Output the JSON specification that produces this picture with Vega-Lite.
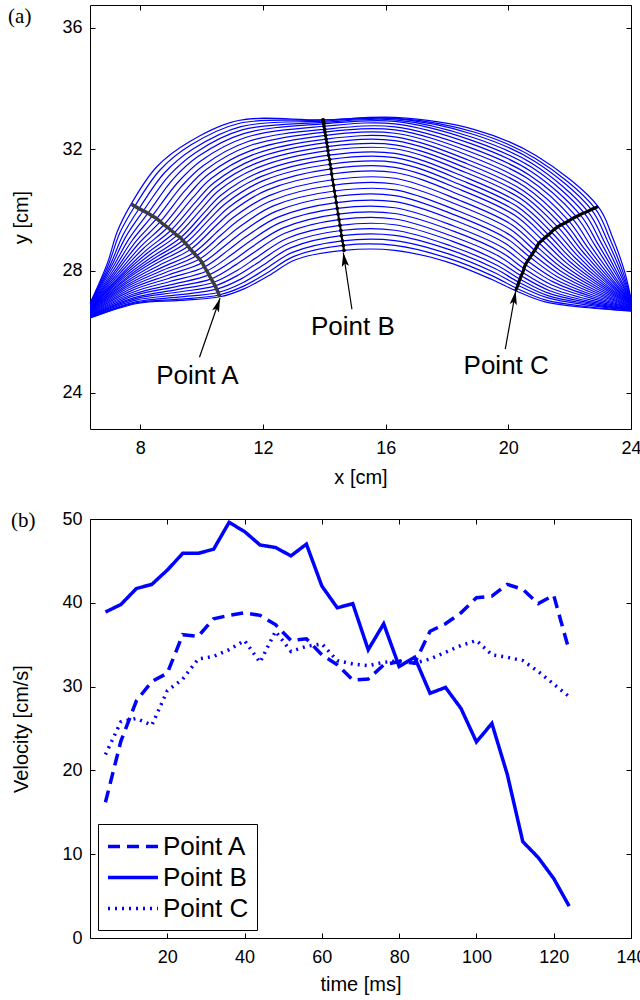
{
  "$schema": "https://vega.github.io/schema/vega-lite/v6.json",
  "background": "white",
  "padding": {"left": 7, "top": 4, "right": 0, "bottom": 0},
  "spacing": 21,
  "resolve": {"legend": {"strokeDash": "independent", "strokeWidth": "independent"}},
  "config": {
    "font": "Liberation Sans",
    "view": {"stroke": "black", "strokeWidth": 1},
    "axis": {
      "domain": false, "grid": false, "ticks": true, "tickSize": -5, "tickColor": "black",
      "labelPadding": 13, "labelFont": "Liberation Sans", "labelFontSize": 18, "labelColor": "black",
      "labelFlush": false, "labelOverlap": false,
      "titleFont": "Liberation Sans", "titleFontSize": 20, "titleFontWeight": "normal", "titleColor": "black"
    },
    "axisX": {"labelPadding": 15, "titlePadding": 10},
    "axisY": {"titlePadding": 30}
  },
  "datasets": {
    "wave": [
      {"k":0,"j":1,"x":6.37,"y":26.45},{"k":0,"j":2,"x":7.90,"y":26.93},{"k":0,"j":3,"x":9.30,"y":27.03},{"k":0,"j":4,"x":10.60,"y":27.15},{"k":0,"j":5,"x":11.40,"y":27.42},{"k":0,"j":6,"x":12.20,"y":27.85},{"k":0,"j":7,"x":13.06,"y":28.37},{"k":0,"j":8,"x":14.64,"y":28.68},{"k":0,"j":9,"x":16.30,"y":28.68},{"k":0,"j":10,"x":18.00,"y":28.30},{"k":0,"j":11,"x":19.46,"y":27.72},{"k":0,"j":12,"x":20.24,"y":27.35},{"k":0,"j":13,"x":21.20,"y":26.98},{"k":0,"j":14,"x":22.60,"y":26.79},{"k":0,"j":15,"x":24.00,"y":26.68},
      {"k":1,"j":1,"x":6.37,"y":26.46},{"k":1,"j":2,"x":7.89,"y":26.96},{"k":1,"j":3,"x":9.28,"y":27.07},{"k":1,"j":4,"x":10.57,"y":27.21},{"k":1,"j":5,"x":11.37,"y":27.50},{"k":1,"j":6,"x":12.14,"y":27.94},{"k":1,"j":7,"x":13.01,"y":28.48},{"k":1,"j":8,"x":14.62,"y":28.84},{"k":1,"j":9,"x":16.30,"y":28.84},{"k":1,"j":10,"x":18.03,"y":28.42},{"k":1,"j":11,"x":19.50,"y":27.83},{"k":1,"j":12,"x":20.27,"y":27.43},{"k":1,"j":13,"x":21.23,"y":27.04},{"k":1,"j":14,"x":22.61,"y":26.82},{"k":1,"j":15,"x":24.00,"y":26.69},
      {"k":2,"j":1,"x":6.37,"y":26.47},{"k":2,"j":2,"x":7.88,"y":26.99},{"k":2,"j":3,"x":9.25,"y":27.14},{"k":2,"j":4,"x":10.54,"y":27.29},{"k":2,"j":5,"x":11.34,"y":27.61},{"k":2,"j":6,"x":12.08,"y":28.06},{"k":2,"j":7,"x":12.96,"y":28.61},{"k":2,"j":8,"x":14.59,"y":28.99},{"k":2,"j":9,"x":16.30,"y":29.00},{"k":2,"j":10,"x":18.05,"y":28.56},{"k":2,"j":11,"x":19.54,"y":27.95},{"k":2,"j":12,"x":20.31,"y":27.53},{"k":2,"j":13,"x":21.26,"y":27.12},{"k":2,"j":14,"x":22.63,"y":26.87},{"k":2,"j":15,"x":24.00,"y":26.71},
      {"k":3,"j":1,"x":6.37,"y":26.49},{"k":3,"j":2,"x":7.86,"y":27.04},{"k":3,"j":3,"x":9.22,"y":27.21},{"k":3,"j":4,"x":10.49,"y":27.40},{"k":3,"j":5,"x":11.29,"y":27.74},{"k":3,"j":6,"x":12.00,"y":28.19},{"k":3,"j":7,"x":12.90,"y":28.76},{"k":3,"j":8,"x":14.56,"y":29.16},{"k":3,"j":9,"x":16.30,"y":29.17},{"k":3,"j":10,"x":18.08,"y":28.70},{"k":3,"j":11,"x":19.58,"y":28.07},{"k":3,"j":12,"x":20.34,"y":27.63},{"k":3,"j":13,"x":21.29,"y":27.19},{"k":3,"j":14,"x":22.65,"y":26.91},{"k":3,"j":15,"x":24.00,"y":26.72},
      {"k":4,"j":1,"x":6.37,"y":26.51},{"k":4,"j":2,"x":7.85,"y":27.09},{"k":4,"j":3,"x":9.19,"y":27.30},{"k":4,"j":4,"x":10.44,"y":27.51},{"k":4,"j":5,"x":11.24,"y":27.89},{"k":4,"j":6,"x":11.92,"y":28.33},{"k":4,"j":7,"x":12.84,"y":28.91},{"k":4,"j":8,"x":14.54,"y":29.33},{"k":4,"j":9,"x":16.30,"y":29.34},{"k":4,"j":10,"x":18.11,"y":28.83},{"k":4,"j":11,"x":19.63,"y":28.19},{"k":4,"j":12,"x":20.38,"y":27.73},{"k":4,"j":13,"x":21.31,"y":27.27},{"k":4,"j":14,"x":22.66,"y":26.95},{"k":4,"j":15,"x":24.00,"y":26.73},
      {"k":5,"j":1,"x":6.37,"y":26.53},{"k":5,"j":2,"x":7.83,"y":27.13},{"k":5,"j":3,"x":9.15,"y":27.38},{"k":5,"j":4,"x":10.38,"y":27.62},{"k":5,"j":5,"x":11.18,"y":28.03},{"k":5,"j":6,"x":11.83,"y":28.47},{"k":5,"j":7,"x":12.78,"y":29.07},{"k":5,"j":8,"x":14.51,"y":29.50},{"k":5,"j":9,"x":16.30,"y":29.52},{"k":5,"j":10,"x":18.14,"y":28.99},{"k":5,"j":11,"x":19.67,"y":28.32},{"k":5,"j":12,"x":20.42,"y":27.84},{"k":5,"j":13,"x":21.35,"y":27.35},{"k":5,"j":14,"x":22.68,"y":26.99},{"k":5,"j":15,"x":24.00,"y":26.75},
      {"k":6,"j":1,"x":6.37,"y":26.55},{"k":6,"j":2,"x":7.80,"y":27.19},{"k":6,"j":3,"x":9.10,"y":27.47},{"k":6,"j":4,"x":10.31,"y":27.74},{"k":6,"j":5,"x":11.11,"y":28.20},{"k":6,"j":6,"x":11.74,"y":28.63},{"k":6,"j":7,"x":12.71,"y":29.24},{"k":6,"j":8,"x":14.48,"y":29.69},{"k":6,"j":9,"x":16.30,"y":29.71},{"k":6,"j":10,"x":18.17,"y":29.14},{"k":6,"j":11,"x":19.72,"y":28.47},{"k":6,"j":12,"x":20.47,"y":27.95},{"k":6,"j":13,"x":21.38,"y":27.44},{"k":6,"j":14,"x":22.70,"y":27.04},{"k":6,"j":15,"x":24.00,"y":26.77},
      {"k":7,"j":1,"x":6.37,"y":26.57},{"k":7,"j":2,"x":7.78,"y":27.24},{"k":7,"j":3,"x":9.05,"y":27.56},{"k":7,"j":4,"x":10.24,"y":27.87},{"k":7,"j":5,"x":11.05,"y":28.36},{"k":7,"j":6,"x":11.64,"y":28.79},{"k":7,"j":7,"x":12.64,"y":29.41},{"k":7,"j":8,"x":14.45,"y":29.87},{"k":7,"j":9,"x":16.30,"y":29.89},{"k":7,"j":10,"x":18.21,"y":29.31},{"k":7,"j":11,"x":19.78,"y":28.61},{"k":7,"j":12,"x":20.51,"y":28.08},{"k":7,"j":13,"x":21.42,"y":27.54},{"k":7,"j":14,"x":22.72,"y":27.10},{"k":7,"j":15,"x":24.00,"y":26.79},
      {"k":8,"j":1,"x":6.37,"y":26.59},{"k":8,"j":2,"x":7.76,"y":27.30},{"k":8,"j":3,"x":8.99,"y":27.66},{"k":8,"j":4,"x":10.17,"y":28.00},{"k":8,"j":5,"x":10.97,"y":28.53},{"k":8,"j":6,"x":11.55,"y":28.96},{"k":8,"j":7,"x":12.56,"y":29.59},{"k":8,"j":8,"x":14.42,"y":30.06},{"k":8,"j":9,"x":16.30,"y":30.08},{"k":8,"j":10,"x":18.24,"y":29.47},{"k":8,"j":11,"x":19.83,"y":28.76},{"k":8,"j":12,"x":20.56,"y":28.21},{"k":8,"j":13,"x":21.46,"y":27.64},{"k":8,"j":14,"x":22.74,"y":27.15},{"k":8,"j":15,"x":24.00,"y":26.80},
      {"k":9,"j":1,"x":6.37,"y":26.61},{"k":9,"j":2,"x":7.73,"y":27.36},{"k":9,"j":3,"x":8.94,"y":27.76},{"k":9,"j":4,"x":10.09,"y":28.13},{"k":9,"j":5,"x":10.90,"y":28.71},{"k":9,"j":6,"x":11.45,"y":29.13},{"k":9,"j":7,"x":12.49,"y":29.77},{"k":9,"j":8,"x":14.39,"y":30.25},{"k":9,"j":9,"x":16.30,"y":30.28},{"k":9,"j":10,"x":18.28,"y":29.65},{"k":9,"j":11,"x":19.88,"y":28.92},{"k":9,"j":12,"x":20.63,"y":28.33},{"k":9,"j":13,"x":21.52,"y":27.73},{"k":9,"j":14,"x":22.77,"y":27.20},{"k":9,"j":15,"x":24.00,"y":26.82},
      {"k":10,"j":1,"x":6.37,"y":26.63},{"k":10,"j":2,"x":7.71,"y":27.42},{"k":10,"j":3,"x":8.89,"y":27.86},{"k":10,"j":4,"x":10.02,"y":28.27},{"k":10,"j":5,"x":10.82,"y":28.88},{"k":10,"j":6,"x":11.35,"y":29.30},{"k":10,"j":7,"x":12.42,"y":29.96},{"k":10,"j":8,"x":14.36,"y":30.45},{"k":10,"j":9,"x":16.30,"y":30.48},{"k":10,"j":10,"x":18.31,"y":29.82},{"k":10,"j":11,"x":19.94,"y":29.07},{"k":10,"j":12,"x":20.71,"y":28.45},{"k":10,"j":13,"x":21.58,"y":27.82},{"k":10,"j":14,"x":22.81,"y":27.25},{"k":10,"j":15,"x":24.00,"y":26.84},
      {"k":11,"j":1,"x":6.37,"y":26.65},{"k":11,"j":2,"x":7.67,"y":27.47},{"k":11,"j":3,"x":8.82,"y":27.95},{"k":11,"j":4,"x":9.93,"y":28.39},{"k":11,"j":5,"x":10.73,"y":29.04},{"k":11,"j":6,"x":11.25,"y":29.46},{"k":11,"j":7,"x":12.34,"y":30.14},{"k":11,"j":8,"x":14.33,"y":30.63},{"k":11,"j":9,"x":16.30,"y":30.67},{"k":11,"j":10,"x":18.35,"y":29.98},{"k":11,"j":11,"x":19.99,"y":29.22},{"k":11,"j":12,"x":20.78,"y":28.56},{"k":11,"j":13,"x":21.64,"y":27.91},{"k":11,"j":14,"x":22.84,"y":27.30},{"k":11,"j":15,"x":24.00,"y":26.85},
      {"k":12,"j":1,"x":6.37,"y":26.67},{"k":12,"j":2,"x":7.64,"y":27.52},{"k":12,"j":3,"x":8.75,"y":28.03},{"k":12,"j":4,"x":9.83,"y":28.50},{"k":12,"j":5,"x":10.64,"y":29.19},{"k":12,"j":6,"x":11.15,"y":29.63},{"k":12,"j":7,"x":12.27,"y":30.31},{"k":12,"j":8,"x":14.30,"y":30.82},{"k":12,"j":9,"x":16.30,"y":30.86},{"k":12,"j":10,"x":18.38,"y":30.16},{"k":12,"j":11,"x":20.05,"y":29.38},{"k":12,"j":12,"x":20.86,"y":28.68},{"k":12,"j":13,"x":21.70,"y":28.00},{"k":12,"j":14,"x":22.87,"y":27.35},{"k":12,"j":15,"x":24.00,"y":26.87},
      {"k":13,"j":1,"x":6.37,"y":26.69},{"k":13,"j":2,"x":7.61,"y":27.56},{"k":13,"j":3,"x":8.69,"y":28.11},{"k":13,"j":4,"x":9.74,"y":28.60},{"k":13,"j":5,"x":10.55,"y":29.33},{"k":13,"j":6,"x":11.06,"y":29.78},{"k":13,"j":7,"x":12.20,"y":30.48},{"k":13,"j":8,"x":14.27,"y":31.00},{"k":13,"j":9,"x":16.30,"y":31.05},{"k":13,"j":10,"x":18.42,"y":30.32},{"k":13,"j":11,"x":20.10,"y":29.53},{"k":13,"j":12,"x":20.93,"y":28.80},{"k":13,"j":13,"x":21.76,"y":28.09},{"k":13,"j":14,"x":22.91,"y":27.40},{"k":13,"j":15,"x":24.00,"y":26.89},
      {"k":14,"j":1,"x":6.37,"y":26.71},{"k":14,"j":2,"x":7.58,"y":27.61},{"k":14,"j":3,"x":8.62,"y":28.19},{"k":14,"j":4,"x":9.64,"y":28.71},{"k":14,"j":5,"x":10.45,"y":29.47},{"k":14,"j":6,"x":10.96,"y":29.94},{"k":14,"j":7,"x":12.13,"y":30.66},{"k":14,"j":8,"x":14.24,"y":31.19},{"k":14,"j":9,"x":16.30,"y":31.24},{"k":14,"j":10,"x":18.45,"y":30.49},{"k":14,"j":11,"x":20.15,"y":29.68},{"k":14,"j":12,"x":21.00,"y":28.92},{"k":14,"j":13,"x":21.82,"y":28.18},{"k":14,"j":14,"x":22.94,"y":27.45},{"k":14,"j":15,"x":24.00,"y":26.91},
      {"k":15,"j":1,"x":6.37,"y":26.72},{"k":15,"j":2,"x":7.55,"y":27.65},{"k":15,"j":3,"x":8.56,"y":28.27},{"k":15,"j":4,"x":9.56,"y":28.81},{"k":15,"j":5,"x":10.37,"y":29.60},{"k":15,"j":6,"x":10.88,"y":30.09},{"k":15,"j":7,"x":12.07,"y":30.81},{"k":15,"j":8,"x":14.22,"y":31.36},{"k":15,"j":9,"x":16.30,"y":31.41},{"k":15,"j":10,"x":18.49,"y":30.65},{"k":15,"j":11,"x":20.21,"y":29.83},{"k":15,"j":12,"x":21.11,"y":29.02},{"k":15,"j":13,"x":21.91,"y":28.25},{"k":15,"j":14,"x":22.99,"y":27.49},{"k":15,"j":15,"x":24.00,"y":26.92},
      {"k":16,"j":1,"x":6.37,"y":26.74},{"k":16,"j":2,"x":7.52,"y":27.70},{"k":16,"j":3,"x":8.50,"y":28.34},{"k":16,"j":4,"x":9.47,"y":28.91},{"k":16,"j":5,"x":10.28,"y":29.73},{"k":16,"j":6,"x":10.79,"y":30.23},{"k":16,"j":7,"x":12.01,"y":30.97},{"k":16,"j":8,"x":14.19,"y":31.51},{"k":16,"j":9,"x":16.30,"y":31.57},{"k":16,"j":10,"x":18.52,"y":30.80},{"k":16,"j":11,"x":20.25,"y":29.97},{"k":16,"j":12,"x":21.21,"y":29.11},{"k":16,"j":13,"x":21.99,"y":28.32},{"k":16,"j":14,"x":23.03,"y":27.53},{"k":16,"j":15,"x":24.00,"y":26.93},
      {"k":17,"j":1,"x":6.37,"y":26.75},{"k":17,"j":2,"x":7.50,"y":27.74},{"k":17,"j":3,"x":8.45,"y":28.41},{"k":17,"j":4,"x":9.39,"y":29.00},{"k":17,"j":5,"x":10.20,"y":29.85},{"k":17,"j":6,"x":10.71,"y":30.37},{"k":17,"j":7,"x":11.95,"y":31.11},{"k":17,"j":8,"x":14.17,"y":31.67},{"k":17,"j":9,"x":16.30,"y":31.73},{"k":17,"j":10,"x":18.55,"y":30.95},{"k":17,"j":11,"x":20.30,"y":30.11},{"k":17,"j":12,"x":21.31,"y":29.19},{"k":17,"j":13,"x":22.07,"y":28.39},{"k":17,"j":14,"x":23.08,"y":27.56},{"k":17,"j":15,"x":24.00,"y":26.95},
      {"k":18,"j":1,"x":6.37,"y":26.77},{"k":18,"j":2,"x":7.47,"y":27.78},{"k":18,"j":3,"x":8.39,"y":28.47},{"k":18,"j":4,"x":9.31,"y":29.09},{"k":18,"j":5,"x":10.12,"y":29.96},{"k":18,"j":6,"x":10.64,"y":30.50},{"k":18,"j":7,"x":11.89,"y":31.25},{"k":18,"j":8,"x":14.14,"y":31.81},{"k":18,"j":9,"x":16.30,"y":31.87},{"k":18,"j":10,"x":18.58,"y":31.09},{"k":18,"j":11,"x":20.35,"y":30.24},{"k":18,"j":12,"x":21.40,"y":29.28},{"k":18,"j":13,"x":22.15,"y":28.46},{"k":18,"j":14,"x":23.12,"y":27.60},{"k":18,"j":15,"x":24.00,"y":26.96},
      {"k":19,"j":1,"x":6.37,"y":26.78},{"k":19,"j":2,"x":7.43,"y":27.81},{"k":19,"j":3,"x":8.31,"y":28.53},{"k":19,"j":4,"x":9.20,"y":29.17},{"k":19,"j":5,"x":10.02,"y":30.07},{"k":19,"j":6,"x":10.55,"y":30.64},{"k":19,"j":7,"x":11.83,"y":31.40},{"k":19,"j":8,"x":14.12,"y":31.96},{"k":19,"j":9,"x":16.30,"y":32.02},{"k":19,"j":10,"x":18.61,"y":31.24},{"k":19,"j":11,"x":20.40,"y":30.38},{"k":19,"j":12,"x":21.50,"y":29.37},{"k":19,"j":13,"x":22.23,"y":28.53},{"k":19,"j":14,"x":23.16,"y":27.64},{"k":19,"j":15,"x":24.00,"y":26.97},
      {"k":20,"j":1,"x":6.37,"y":26.79},{"k":20,"j":2,"x":7.40,"y":27.85},{"k":20,"j":3,"x":8.24,"y":28.60},{"k":20,"j":4,"x":9.10,"y":29.25},{"k":20,"j":5,"x":9.92,"y":30.18},{"k":20,"j":6,"x":10.47,"y":30.77},{"k":20,"j":7,"x":11.77,"y":31.54},{"k":20,"j":8,"x":14.10,"y":32.09},{"k":20,"j":9,"x":16.30,"y":32.15},{"k":20,"j":10,"x":18.64,"y":31.38},{"k":20,"j":11,"x":20.45,"y":30.51},{"k":20,"j":12,"x":21.61,"y":29.45},{"k":20,"j":13,"x":22.32,"y":28.59},{"k":20,"j":14,"x":23.21,"y":27.67},{"k":20,"j":15,"x":24.00,"y":26.98},
      {"k":21,"j":1,"x":6.37,"y":26.81},{"k":21,"j":2,"x":7.37,"y":27.88},{"k":21,"j":3,"x":8.17,"y":28.66},{"k":21,"j":4,"x":9.00,"y":29.34},{"k":21,"j":5,"x":9.82,"y":30.29},{"k":21,"j":6,"x":10.40,"y":30.90},{"k":21,"j":7,"x":11.72,"y":31.68},{"k":21,"j":8,"x":14.08,"y":32.22},{"k":21,"j":9,"x":16.30,"y":32.29},{"k":21,"j":10,"x":18.67,"y":31.52},{"k":21,"j":11,"x":20.49,"y":30.64},{"k":21,"j":12,"x":21.73,"y":29.52},{"k":21,"j":13,"x":22.42,"y":28.64},{"k":21,"j":14,"x":23.26,"y":27.70},{"k":21,"j":15,"x":24.00,"y":26.99},
      {"k":22,"j":1,"x":6.37,"y":26.82},{"k":22,"j":2,"x":7.33,"y":27.92},{"k":22,"j":3,"x":8.09,"y":28.73},{"k":22,"j":4,"x":8.89,"y":29.43},{"k":22,"j":5,"x":9.71,"y":30.41},{"k":22,"j":6,"x":10.31,"y":31.04},{"k":22,"j":7,"x":11.66,"y":31.82},{"k":22,"j":8,"x":14.06,"y":32.34},{"k":22,"j":9,"x":16.30,"y":32.41},{"k":22,"j":10,"x":18.69,"y":31.65},{"k":22,"j":11,"x":20.54,"y":30.77},{"k":22,"j":12,"x":21.85,"y":29.58},{"k":22,"j":13,"x":22.51,"y":28.69},{"k":22,"j":14,"x":23.32,"y":27.72},{"k":22,"j":15,"x":24.00,"y":27.00},
      {"k":23,"j":1,"x":6.37,"y":26.84},{"k":23,"j":2,"x":7.29,"y":27.96},{"k":23,"j":3,"x":8.01,"y":28.80},{"k":23,"j":4,"x":8.77,"y":29.52},{"k":23,"j":5,"x":9.59,"y":30.53},{"k":23,"j":6,"x":10.23,"y":31.19},{"k":23,"j":7,"x":11.60,"y":31.96},{"k":23,"j":8,"x":14.04,"y":32.46},{"k":23,"j":9,"x":16.30,"y":32.53},{"k":23,"j":10,"x":18.72,"y":31.79},{"k":23,"j":11,"x":20.58,"y":30.90},{"k":23,"j":12,"x":21.97,"y":29.65},{"k":23,"j":13,"x":22.61,"y":28.74},{"k":23,"j":14,"x":23.37,"y":27.75},{"k":23,"j":15,"x":24.00,"y":27.01},
      {"k":24,"j":1,"x":6.37,"y":26.86},{"k":24,"j":2,"x":7.25,"y":28.01},{"k":24,"j":3,"x":7.92,"y":28.87},{"k":24,"j":4,"x":8.65,"y":29.62},{"k":24,"j":5,"x":9.47,"y":30.66},{"k":24,"j":6,"x":10.14,"y":31.33},{"k":24,"j":7,"x":11.54,"y":32.11},{"k":24,"j":8,"x":14.02,"y":32.57},{"k":24,"j":9,"x":16.30,"y":32.64},{"k":24,"j":10,"x":18.75,"y":31.92},{"k":24,"j":11,"x":20.63,"y":31.04},{"k":24,"j":12,"x":22.09,"y":29.72},{"k":24,"j":13,"x":22.71,"y":28.79},{"k":24,"j":14,"x":23.43,"y":27.78},{"k":24,"j":15,"x":24.00,"y":27.02},
      {"k":25,"j":1,"x":6.37,"y":26.87},{"k":25,"j":2,"x":7.21,"y":28.05},{"k":25,"j":3,"x":7.84,"y":28.95},{"k":25,"j":4,"x":8.53,"y":29.72},{"k":25,"j":5,"x":9.35,"y":30.79},{"k":25,"j":6,"x":10.06,"y":31.47},{"k":25,"j":7,"x":11.49,"y":32.25},{"k":25,"j":8,"x":14.01,"y":32.66},{"k":25,"j":9,"x":16.30,"y":32.74},{"k":25,"j":10,"x":18.78,"y":32.05},{"k":25,"j":11,"x":20.68,"y":31.16},{"k":25,"j":12,"x":22.22,"y":29.79},{"k":25,"j":13,"x":22.82,"y":28.85},{"k":25,"j":14,"x":23.48,"y":27.81},{"k":25,"j":15,"x":24.00,"y":27.03},
      {"k":26,"j":1,"x":6.37,"y":26.89},{"k":26,"j":2,"x":7.16,"y":28.09},{"k":26,"j":3,"x":7.74,"y":29.01},{"k":26,"j":4,"x":8.39,"y":29.81},{"k":26,"j":5,"x":9.22,"y":30.91},{"k":26,"j":6,"x":9.97,"y":31.62},{"k":26,"j":7,"x":11.43,"y":32.39},{"k":26,"j":8,"x":13.99,"y":32.76},{"k":26,"j":9,"x":16.30,"y":32.84},{"k":26,"j":10,"x":18.80,"y":32.18},{"k":26,"j":11,"x":20.72,"y":31.29},{"k":26,"j":12,"x":22.34,"y":29.85},{"k":26,"j":13,"x":22.92,"y":28.89},{"k":26,"j":14,"x":23.54,"y":27.84},{"k":26,"j":15,"x":24.00,"y":27.04},
      {"k":27,"j":1,"x":6.37,"y":26.90},{"k":27,"j":2,"x":7.11,"y":28.13},{"k":27,"j":3,"x":7.64,"y":29.07},{"k":27,"j":4,"x":8.25,"y":29.90},{"k":27,"j":5,"x":9.07,"y":31.02},{"k":27,"j":6,"x":9.89,"y":31.77},{"k":27,"j":7,"x":11.37,"y":32.52},{"k":27,"j":8,"x":13.98,"y":32.84},{"k":27,"j":9,"x":16.30,"y":32.92},{"k":27,"j":10,"x":18.83,"y":32.29},{"k":27,"j":11,"x":20.76,"y":31.41},{"k":27,"j":12,"x":22.47,"y":29.91},{"k":27,"j":13,"x":23.02,"y":28.94},{"k":27,"j":14,"x":23.59,"y":27.86},{"k":27,"j":15,"x":24.00,"y":27.05},
      {"k":28,"j":1,"x":6.37,"y":26.91},{"k":28,"j":2,"x":7.06,"y":28.16},{"k":28,"j":3,"x":7.53,"y":29.13},{"k":28,"j":4,"x":8.10,"y":29.98},{"k":28,"j":5,"x":8.93,"y":31.13},{"k":28,"j":6,"x":9.81,"y":31.90},{"k":28,"j":7,"x":11.32,"y":32.64},{"k":28,"j":8,"x":13.97,"y":32.89},{"k":28,"j":9,"x":16.30,"y":32.97},{"k":28,"j":10,"x":18.85,"y":32.39},{"k":28,"j":11,"x":20.80,"y":31.52},{"k":28,"j":12,"x":22.59,"y":29.96},{"k":28,"j":13,"x":23.12,"y":28.98},{"k":28,"j":14,"x":23.65,"y":27.88},{"k":28,"j":15,"x":24.00,"y":27.06},
      {"k":29,"j":1,"x":6.37,"y":26.93},{"k":29,"j":2,"x":7.02,"y":28.20},{"k":29,"j":3,"x":7.44,"y":29.19},{"k":29,"j":4,"x":7.96,"y":30.05},{"k":29,"j":5,"x":8.79,"y":31.23},{"k":29,"j":6,"x":9.73,"y":32.02},{"k":29,"j":7,"x":11.28,"y":32.75},{"k":29,"j":8,"x":13.97,"y":32.93},{"k":29,"j":9,"x":16.30,"y":33.01},{"k":29,"j":10,"x":18.87,"y":32.49},{"k":29,"j":11,"x":20.84,"y":31.62},{"k":29,"j":12,"x":22.71,"y":30.02},{"k":29,"j":13,"x":23.22,"y":29.02},{"k":29,"j":14,"x":23.70,"y":27.91},{"k":29,"j":15,"x":24.00,"y":27.07},
      {"k":30,"j":1,"x":6.37,"y":26.94},{"k":30,"j":2,"x":6.97,"y":28.23},{"k":30,"j":3,"x":7.33,"y":29.25},{"k":30,"j":4,"x":7.82,"y":30.13},{"k":30,"j":5,"x":8.65,"y":31.33},{"k":30,"j":6,"x":9.66,"y":32.15},{"k":30,"j":7,"x":11.24,"y":32.86},{"k":30,"j":8,"x":13.96,"y":32.96},{"k":30,"j":9,"x":16.30,"y":33.03},{"k":30,"j":10,"x":18.88,"y":32.57},{"k":30,"j":11,"x":20.87,"y":31.71},{"k":30,"j":12,"x":22.82,"y":30.07},{"k":30,"j":13,"x":23.31,"y":29.06},{"k":30,"j":14,"x":23.75,"y":27.93},{"k":30,"j":15,"x":24.00,"y":27.07},
      {"k":31,"j":1,"x":6.37,"y":26.95},{"k":31,"j":2,"x":6.93,"y":28.26},{"k":31,"j":3,"x":7.25,"y":29.30},{"k":31,"j":4,"x":7.70,"y":30.20},{"k":31,"j":5,"x":8.53,"y":31.42},{"k":31,"j":6,"x":9.60,"y":32.25},{"k":31,"j":7,"x":11.20,"y":32.95},{"k":31,"j":8,"x":13.96,"y":32.97},{"k":31,"j":9,"x":16.30,"y":33.05},{"k":31,"j":10,"x":18.90,"y":32.65},{"k":31,"j":11,"x":20.90,"y":31.80},{"k":31,"j":12,"x":22.93,"y":30.12},{"k":31,"j":13,"x":23.40,"y":29.10},{"k":31,"j":14,"x":23.80,"y":27.95},{"k":31,"j":15,"x":24.00,"y":27.08}
    ],
    "notes": [
      {"label": "Point A", "tx": 9.93, "ty": 25.16, "hx": 10.60, "hy": 27.10, "lx": 9.86, "ly": 24.56},
      {"label": "Point B", "tx": 14.90, "ty": 26.74, "hx": 14.62, "hy": 28.60, "lx": 14.93, "ly": 26.15},
      {"label": "Point C", "tx": 19.90, "ty": 25.43, "hx": 20.24, "hy": 27.34, "lx": 19.93, "ly": 24.88}
    ],
    "vel": [
      {"t":4,"v":16.2,"p":"Point A"},{"t":8,"v":23.5,"p":"Point A"},{"t":12,"v":28.3,"p":"Point A"},{"t":16,"v":30.6,"p":"Point A"},{"t":20,"v":31.6,"p":"Point A"},{"t":24,"v":36.2,"p":"Point A"},{"t":28,"v":36.0,"p":"Point A"},{"t":32,"v":38.1,"p":"Point A"},{"t":36,"v":38.5,"p":"Point A"},{"t":40,"v":38.8,"p":"Point A"},{"t":44,"v":38.5,"p":"Point A"},{"t":48,"v":37.4,"p":"Point A"},{"t":52,"v":35.5,"p":"Point A"},{"t":56,"v":35.7,"p":"Point A"},{"t":60,"v":33.8,"p":"Point A"},{"t":64,"v":32.6,"p":"Point A"},{"t":68,"v":30.8,"p":"Point A"},{"t":72,"v":30.9,"p":"Point A"},{"t":76,"v":32.6,"p":"Point A"},{"t":80,"v":33.0,"p":"Point A"},{"t":84,"v":32.8,"p":"Point A"},{"t":88,"v":36.6,"p":"Point A"},{"t":92,"v":37.5,"p":"Point A"},{"t":96,"v":38.8,"p":"Point A"},{"t":100,"v":40.6,"p":"Point A"},{"t":104,"v":40.8,"p":"Point A"},{"t":108,"v":42.2,"p":"Point A"},{"t":112,"v":41.6,"p":"Point A"},{"t":116,"v":39.9,"p":"Point A"},{"t":120,"v":40.9,"p":"Point A"},{"t":124,"v":34.3,"p":"Point A"},
      {"t":4,"v":38.9,"p":"Point B"},{"t":8,"v":39.8,"p":"Point B"},{"t":12,"v":41.7,"p":"Point B"},{"t":16,"v":42.2,"p":"Point B"},{"t":20,"v":43.9,"p":"Point B"},{"t":24,"v":45.9,"p":"Point B"},{"t":28,"v":45.9,"p":"Point B"},{"t":32,"v":46.4,"p":"Point B"},{"t":36,"v":49.6,"p":"Point B"},{"t":40,"v":48.5,"p":"Point B"},{"t":44,"v":46.9,"p":"Point B"},{"t":48,"v":46.6,"p":"Point B"},{"t":52,"v":45.6,"p":"Point B"},{"t":56,"v":47.0,"p":"Point B"},{"t":60,"v":42.0,"p":"Point B"},{"t":64,"v":39.4,"p":"Point B"},{"t":68,"v":39.9,"p":"Point B"},{"t":72,"v":34.4,"p":"Point B"},{"t":76,"v":37.5,"p":"Point B"},{"t":80,"v":32.4,"p":"Point B"},{"t":84,"v":33.5,"p":"Point B"},{"t":88,"v":29.2,"p":"Point B"},{"t":92,"v":29.9,"p":"Point B"},{"t":96,"v":27.4,"p":"Point B"},{"t":100,"v":23.4,"p":"Point B"},{"t":104,"v":25.6,"p":"Point B"},{"t":108,"v":19.5,"p":"Point B"},{"t":112,"v":11.5,"p":"Point B"},{"t":116,"v":9.6,"p":"Point B"},{"t":120,"v":7.1,"p":"Point B"},{"t":124,"v":3.8,"p":"Point B"},
      {"t":4,"v":21.9,"p":"Point C"},{"t":8,"v":25.8,"p":"Point C"},{"t":12,"v":26.2,"p":"Point C"},{"t":16,"v":25.4,"p":"Point C"},{"t":20,"v":29.5,"p":"Point C"},{"t":24,"v":30.9,"p":"Point C"},{"t":28,"v":33.3,"p":"Point C"},{"t":32,"v":33.6,"p":"Point C"},{"t":36,"v":34.4,"p":"Point C"},{"t":40,"v":35.5,"p":"Point C"},{"t":44,"v":32.9,"p":"Point C"},{"t":48,"v":36.6,"p":"Point C"},{"t":52,"v":34.2,"p":"Point C"},{"t":56,"v":34.8,"p":"Point C"},{"t":60,"v":35.1,"p":"Point C"},{"t":64,"v":33.1,"p":"Point C"},{"t":68,"v":32.7,"p":"Point C"},{"t":72,"v":32.5,"p":"Point C"},{"t":76,"v":32.9,"p":"Point C"},{"t":80,"v":33.1,"p":"Point C"},{"t":84,"v":32.8,"p":"Point C"},{"t":88,"v":33.3,"p":"Point C"},{"t":92,"v":34.1,"p":"Point C"},{"t":96,"v":34.9,"p":"Point C"},{"t":100,"v":35.5,"p":"Point C"},{"t":104,"v":33.8,"p":"Point C"},{"t":108,"v":33.5,"p":"Point C"},{"t":112,"v":33.1,"p":"Point C"},{"t":116,"v":31.8,"p":"Point C"},{"t":120,"v":30.3,"p":"Point C"},{"t":124,"v":28.8,"p":"Point C"}
    ]
  },
  "vconcat": [
    {
      "width": 541,
      "height": 424,
      "resolve": {"axis": {"x": "independent", "y": "independent"}},
      "layer": [
        {
          "data": {"name": "wave"},
          "mark": {"type": "line", "interpolate": "catmull-rom", "strokeWidth": 1.2, "color": "#0000ff"},
          "encoding": {
            "x": {"field": "x", "type": "quantitative", "scale": {"domain": [6.36, 24], "nice": false, "zero": false},
                  "axis": {"orient": "bottom", "values": [8, 12, 16, 20, 24], "title": "x [cm]"}},
            "y": {"field": "y", "type": "quantitative", "scale": {"domain": [22.8, 36.75], "nice": false, "zero": false},
                  "axis": {"orient": "left", "values": [24, 28, 32, 36], "title": "y [cm]"}},
            "detail": {"field": "k", "type": "nominal"},
            "order": {"field": "j", "type": "quantitative"}
          }
        },
        {
          "data": {"name": "wave"},
          "mark": {"type": "point", "opacity": 0},
          "encoding": {
            "x": {"field": "x", "type": "quantitative",
                  "axis": {"orient": "top", "values": [8, 12, 16, 20, 24], "labels": false, "title": null}},
            "y": {"field": "y", "type": "quantitative",
                  "axis": {"orient": "right", "values": [24, 28, 32, 36], "labels": false, "title": null}}
          }
        },
        {
          "data": {"name": "wave"},
          "transform": [{"filter": "datum.j == 4"}],
          "mark": {"type": "line", "interpolate": "catmull-rom", "strokeWidth": 3.5, "color": "#3c3c3c"},
          "encoding": {
            "x": {"field": "x", "type": "quantitative", "axis": null},
            "y": {"field": "y", "type": "quantitative", "axis": null},
            "order": {"field": "k", "type": "quantitative"}
          }
        },
        {
          "data": {"name": "wave"},
          "transform": [{"filter": "datum.j == 12"}],
          "mark": {"type": "line", "interpolate": "catmull-rom", "strokeWidth": 3.2, "color": "#000000"},
          "encoding": {
            "x": {"field": "x", "type": "quantitative", "axis": null},
            "y": {"field": "y", "type": "quantitative", "axis": null},
            "order": {"field": "k", "type": "quantitative"}
          }
        },
        {
          "data": {"name": "wave"},
          "transform": [{"filter": "datum.j == 8"}],
          "mark": {"type": "line", "strokeWidth": 2, "color": "#000000"},
          "encoding": {
            "x": {"field": "x", "type": "quantitative", "axis": null},
            "y": {"field": "y", "type": "quantitative", "axis": null},
            "order": {"field": "k", "type": "quantitative"}
          }
        },
        {
          "data": {"name": "wave"},
          "transform": [{"filter": "datum.j == 8"}],
          "mark": {"type": "point", "filled": true, "size": 14, "opacity": 1, "color": "#000000"},
          "encoding": {
            "x": {"field": "x", "type": "quantitative", "axis": null},
            "y": {"field": "y", "type": "quantitative", "axis": null}
          }
        },
        {
          "data": {"name": "notes"},
          "mark": {"type": "rule", "strokeWidth": 1.2, "color": "#000000"},
          "encoding": {
            "x": {"field": "tx", "type": "quantitative", "axis": null},
            "y": {"field": "ty", "type": "quantitative", "axis": null},
            "x2": {"field": "hx"},
            "y2": {"field": "hy"}
          }
        },
        {
          "data": {"name": "notes"},
          "transform": [{"calculate": "atan2(datum.hx - datum.tx, datum.hy - datum.ty) * 180 / PI", "as": "ang"}],
          "mark": {"type": "point", "shape": "M0,0L0.42,1.6L0,1.25L-0.42,1.6Z", "filled": true, "size": 300, "opacity": 1, "color": "#000000"},
          "encoding": {
            "x": {"field": "hx", "type": "quantitative", "axis": null},
            "y": {"field": "hy", "type": "quantitative", "axis": null},
            "angle": {"field": "ang", "type": "quantitative", "scale": null}
          }
        },
        {
          "data": {"name": "notes"},
          "mark": {"type": "text", "fontSize": 26, "font": "Liberation Sans", "color": "#000000", "align": "center", "baseline": "middle"},
          "encoding": {
            "x": {"field": "lx", "type": "quantitative", "axis": null},
            "y": {"field": "ly", "type": "quantitative", "axis": null},
            "text": {"field": "label"}
          }
        },
        {
          "data": {"values": [{"tag": "(a)", "x": 4.07, "y": 36.35}]},
          "mark": {"type": "text", "fontSize": 21, "font": "Liberation Serif", "color": "#000000", "align": "center", "baseline": "middle"},
          "encoding": {
            "x": {"field": "x", "type": "quantitative", "axis": null},
            "y": {"field": "y", "type": "quantitative", "axis": null},
            "text": {"field": "tag"}
          }
        }
      ]
    },
    {
      "width": 541,
      "height": 419,
      "resolve": {"axis": {"x": "independent", "y": "independent"}},
      "layer": [
        {
          "data": {"name": "vel"},
          "mark": {"type": "line", "color": "#0000ff"},
          "encoding": {
            "x": {"field": "t", "type": "quantitative", "scale": {"domain": [0, 140], "nice": false, "zero": false},
                  "axis": {"orient": "bottom", "values": [20, 40, 60, 80, 100, 120, 140], "title": "time [ms]", "titlePadding": 8}},
            "y": {"field": "v", "type": "quantitative", "scale": {"domain": [0, 50], "nice": false},
                  "axis": {"orient": "left", "values": [0, 10, 20, 30, 40, 50], "title": "Velocity [cm/s]"}},
            "strokeDash": {"field": "p", "type": "nominal",
                           "scale": {"domain": ["Point A", "Point B", "Point C"], "range": [[12, 7], [1, 0], [2, 5]]},
                           "legend": {"title": null, "orient": "bottom-left", "offset": 8,
                                      "symbolType": "M-1,0L3,0", "symbolSize": 625,
                                      "symbolStrokeWidth": 3.5, "symbolStrokeColor": "#0000ff", "symbolFillColor": "transparent",
                                      "labelFontSize": 26, "labelFont": "Liberation Sans", "labelColor": "#000000",
                                      "labelLimit": 300, "labelOffset": 28,
                                      "rowPadding": 3, "padding": 8, "strokeColor": "#000000", "fillColor": "#ffffff"}},
            "strokeWidth": {"field": "p", "type": "nominal",
                            "scale": {"domain": ["Point A", "Point B", "Point C"], "range": [3.5, 3.5, 2.6]},
                            "legend": null}
          }
        },
        {
          "data": {"name": "vel"},
          "mark": {"type": "point", "opacity": 0},
          "encoding": {
            "x": {"field": "t", "type": "quantitative",
                  "axis": {"orient": "top", "values": [20, 40, 60, 80, 100, 120, 140], "labels": false, "title": null}},
            "y": {"field": "v", "type": "quantitative",
                  "axis": {"orient": "right", "values": [0, 10, 20, 30, 40, 50], "labels": false, "title": null}}
          }
        },
        {
          "data": {"values": [{"tag": "(b)", "t": -17.3, "v": 49.8}]},
          "mark": {"type": "text", "fontSize": 21, "font": "Liberation Serif", "color": "#000000", "align": "center", "baseline": "middle"},
          "encoding": {
            "x": {"field": "t", "type": "quantitative", "axis": null},
            "y": {"field": "v", "type": "quantitative", "axis": null},
            "text": {"field": "tag"}
          }
        }
      ]
    }
  ]
}
